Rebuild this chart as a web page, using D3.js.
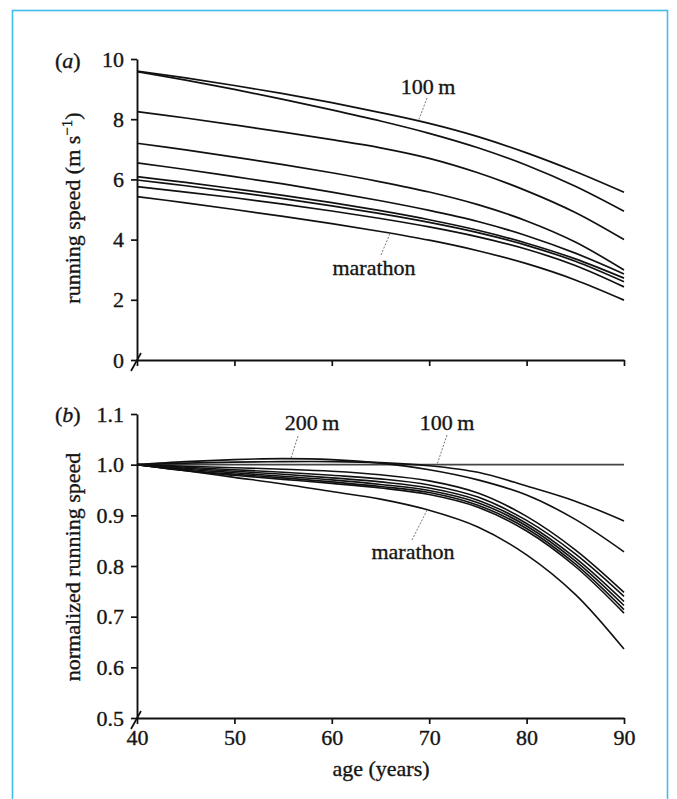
<!DOCTYPE html>
<html>
<head>
<meta charset="utf-8">
<script src="https://cdn.jsdelivr.net/npm/d3@7"></script>
<style>
  html, body { margin: 0; padding: 0; background: #fff; }
  svg { display: block; }
  text { font-family: "Liberation Serif", "Times New Roman", serif; fill: #151515; stroke: #151515; stroke-width: 0.35px; }
</style>
</head>
<body>
<svg id="chart" width="677" height="799"></svg>
<script>
// ---------- data ----------
const ages = [40, 45, 50, 55, 60, 65, 70, 75, 80, 85, 90];
const events = ["100 m", "200 m", "400 m", "800 m", "1500 m", "5000 m", "10000 m", "half marathon", "marathon"];

// panel (a): running speed (m/s)
const speed100  = [9.60, 9.37, 9.12, 8.85, 8.55, 8.22, 7.86, 7.42, 6.88, 6.26, 5.57];
const speed200  = [9.58, 9.30, 8.99, 8.66, 8.31, 7.94, 7.53, 7.05, 6.47, 5.77, 4.94];
const speed400  = [8.25, 8.04, 7.81, 7.57, 7.32, 7.05, 6.70, 6.22, 5.62, 4.90, 4.00];
const speed800  = [7.20, 6.98, 6.74, 6.49, 6.22, 5.92, 5.58, 5.16, 4.62, 3.92, 2.99];
const speed1500 = [6.55, 6.33, 6.09, 5.85, 5.58, 5.29, 4.97, 4.60, 4.13, 3.55, 2.86];
const speed5000 = [6.09, 5.90, 5.69, 5.47, 5.23, 4.96, 4.66, 4.31, 3.88, 3.36, 2.72];
const speed10k  = [5.98, 5.79, 5.58, 5.36, 5.12, 4.86, 4.57, 4.23, 3.81, 3.28, 2.60];
const speedHalf = [5.76, 5.58, 5.39, 5.18, 4.95, 4.70, 4.42, 4.09, 3.68, 3.14, 2.43];
const speedMar  = [5.43, 5.22, 5.00, 4.77, 4.53, 4.27, 3.98, 3.63, 3.20, 2.66, 1.99];

// panel (b): normalized running speed
const norm100  = [1.000, 1.003, 1.005, 1.006, 1.006, 1.004, 0.998, 0.985, 0.958, 0.928, 0.889];
const norm200  = [1.000, 1.006, 1.010, 1.012, 1.010, 1.003, 0.990, 0.970, 0.940, 0.892, 0.828];
const norm400  = [1.000, 0.997, 0.994, 0.991, 0.987, 0.980, 0.968, 0.944, 0.898, 0.832, 0.748];
const norm800  = [1.000, 0.995, 0.990, 0.985, 0.979, 0.972, 0.960, 0.936, 0.890, 0.824, 0.740];
const norm1500 = [1.000, 0.993, 0.987, 0.981, 0.974, 0.966, 0.954, 0.930, 0.884, 0.816, 0.730];
const norm5000 = [1.000, 0.991, 0.984, 0.977, 0.970, 0.961, 0.949, 0.925, 0.879, 0.810, 0.722];
const norm10k  = [1.000, 0.989, 0.981, 0.974, 0.966, 0.957, 0.945, 0.920, 0.874, 0.804, 0.714];
const normHalf = [1.000, 0.988, 0.979, 0.971, 0.963, 0.954, 0.941, 0.916, 0.869, 0.799, 0.707];
const normMar  = [1.000, 0.988, 0.975, 0.962, 0.947, 0.932, 0.910, 0.877, 0.822, 0.744, 0.636];
const referenceLevel = 1.0;

const speedSeries = [speed100, speed200, speed400, speed800, speed1500, speed5000, speed10k, speedHalf, speedMar];
const normSeries  = [norm100, norm200, norm400, norm800, norm1500, norm5000, norm10k, normHalf, normMar];

const xTicks = [40, 50, 60, 70, 80, 90];
const yTicksA = [0, 2, 4, 6, 8, 10];
const yTicksB = [0.5, 0.6, 0.7, 0.8, 0.9, 1.0, 1.1];

// ---------- drawing ----------
const FS = 22;
const svg = d3.select("#chart");

svg.append("rect")
  .attr("x", 12.5).attr("y", 10.5)
  .attr("width", 655).attr("height", 820)
  .attr("fill", "none").attr("stroke", "#41bdea").attr("stroke-width", 1.6);

const x = d3.scaleLinear().domain([40, 90]).range([137, 624]);
const ya = d3.scaleLinear().domain([0, 10]).range([360, 59]);
const yb = d3.scaleLinear().domain([0.5, 1.1]).range([718, 414]);

function styleAxis(g) {
  g.selectAll("path.domain").attr("stroke", "#111").attr("stroke-width", 1.9);
  g.selectAll(".tick line").attr("stroke", "#111").attr("stroke-width", 1.7);
  g.selectAll("text").attr("font-size", FS).attr("fill", "#151515")
    .style("font-family", '"Liberation Serif", serif');
}

// Panel (a) axes
svg.append("g").attr("transform", `translate(${x(40)},0)`)
  .call(d3.axisLeft(ya).tickValues(yTicksA).tickFormat(d3.format("d")).tickSize(6).tickSizeOuter(0).tickPadding(7))
  .call(styleAxis);
svg.append("g").attr("transform", `translate(0,${ya(0)})`)
  .call(d3.axisBottom(x).tickValues(xTicks).tickFormat("").tickSize(6).tickSizeOuter(0))
  .call(styleAxis);

// Panel (b) axes
svg.append("g").attr("transform", `translate(${x(40)},0)`)
  .call(d3.axisLeft(yb).tickValues(yTicksB).tickFormat(d3.format(".1f")).tickSize(6).tickSizeOuter(0).tickPadding(7))
  .call(styleAxis);
svg.append("g").attr("transform", `translate(0,${yb(0.5)})`)
  .call(d3.axisBottom(x).tickValues(xTicks).tickFormat(d3.format("d")).tickSize(6).tickSizeOuter(0).tickPadding(5))
  .call(styleAxis);

// axis break marks
[[x(40), ya(0)], [x(40), yb(0.5)]].forEach(([cx, cy]) => {
  svg.append("line")
    .attr("x1", cx - 6).attr("y1", cy + 11)
    .attr("x2", cx + 4).attr("y2", cy - 7)
    .attr("stroke", "#111").attr("stroke-width", 1.7);
});

// lines
const lineA = d3.line().x((d, i) => x(ages[i])).y(d => ya(d)).curve(d3.curveCatmullRom.alpha(0.5));
const lineB = d3.line().x((d, i) => x(ages[i])).y(d => yb(d)).curve(d3.curveCatmullRom.alpha(0.5));

svg.append("line")
  .attr("x1", x(40)).attr("x2", x(90))
  .attr("y1", yb(referenceLevel)).attr("y2", yb(referenceLevel))
  .attr("stroke", "#444").attr("stroke-width", 1.7);

svg.append("g").selectAll("path").data(speedSeries).join("path")
  .attr("d", lineA).attr("fill", "none").attr("stroke", "#111").attr("stroke-width", 1.7);
svg.append("g").selectAll("path").data(normSeries).join("path")
  .attr("d", lineB).attr("fill", "none").attr("stroke", "#111").attr("stroke-width", 1.6);

// leader lines and labels
function leader(x1, y1, x2, y2) {
  svg.append("line").attr("x1", x1).attr("y1", y1).attr("x2", x2).attr("y2", y2)
    .attr("stroke", "#777").attr("stroke-width", 1).attr("stroke-dasharray", "2,1.5");
}
function label(tx, ty, s, anchor) {
  svg.append("text").attr("x", tx).attr("y", ty).attr("font-size", FS)
    .attr("text-anchor", anchor || "middle").text(s);
}

// (a)
leader(427, 98, x(68.9), ya(7.95));
label(428, 94, "100\u2009m");
leader(381, 255, x(66), ya(4.22));
label(374, 275, "marathon");

// (b)
leader(298, 436, x(55.8), yb(1.012));
label(312, 430, "200\u2009m");
leader(447, 435, x(70.8), yb(1.0));
label(447, 430, "100\u2009m");
leader(412, 540, x(69.8), yb(0.911));
label(413, 559, "marathon");

// panel letters
function panelLetter(px, py, letter) {
  const t = svg.append("text").attr("x", px).attr("y", py).attr("font-size", FS);
  t.append("tspan").text("(");
  t.append("tspan").attr("font-style", "italic").text(letter);
  t.append("tspan").text(")");
}
panelLetter(55, 68, "a");
panelLetter(55, 422, "b");

// axis titles
const ta = svg.append("text").attr("transform", `translate(80,208) rotate(-90)`)
  .attr("text-anchor", "middle").attr("font-size", FS);
ta.append("tspan").text("running speed (m s");
ta.append("tspan").attr("font-size", 15).attr("dy", -8).text("\u22121");
ta.append("tspan").attr("dy", 8).text(")");

svg.append("text").attr("transform", `translate(80,567) rotate(-90)`)
  .attr("text-anchor", "middle").attr("font-size", FS).text("normalized running speed");

svg.append("text").attr("x", 381).attr("y", 776).attr("text-anchor", "middle")
  .attr("font-size", FS).text("age (years)");
</script>
</body>
</html>
